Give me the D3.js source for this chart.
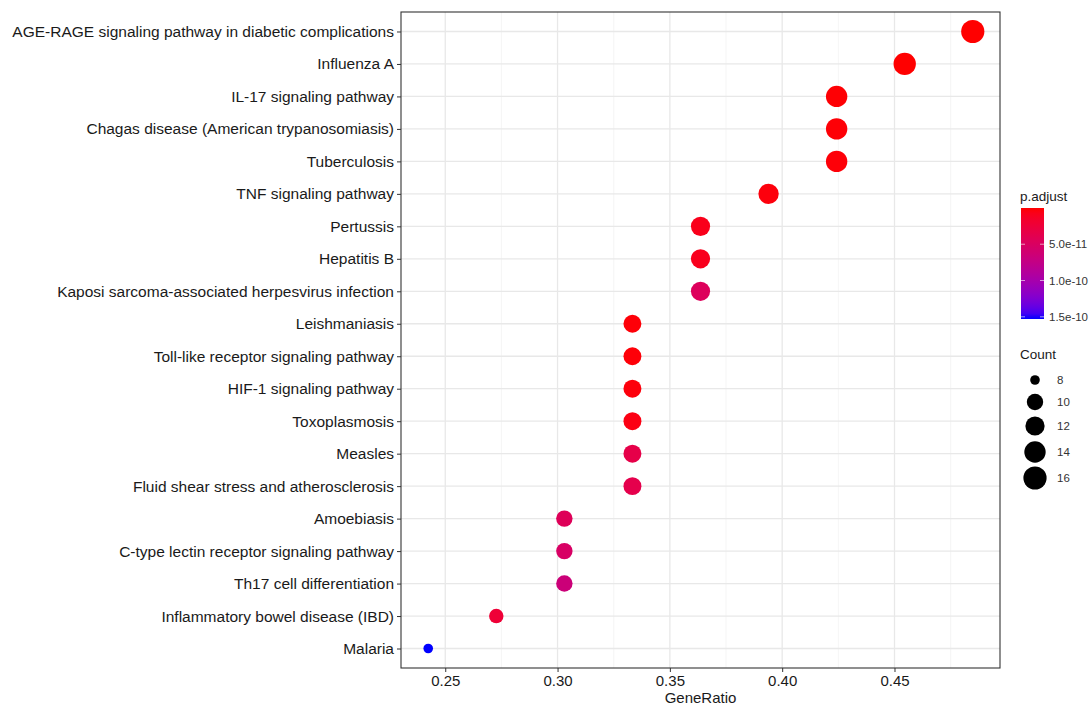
<!DOCTYPE html>
<html>
<head>
<meta charset="utf-8">
<script src="https://cdn.jsdelivr.net/npm/d3@7"></script>
<style>
  body { margin: 0; background: #fff; }
  svg { display: block; font-family: "Liberation Sans", Arial, sans-serif; }
</style>
</head>
<body>
<svg id="chart" width="1091" height="707"></svg>
<script>
// KEGG enrichment terms, top to bottom
const pathways = [
  "AGE-RAGE signaling pathway in diabetic complications",
  "Influenza A",
  "IL-17 signaling pathway",
  "Chagas disease (American trypanosomiasis)",
  "Tuberculosis",
  "TNF signaling pathway",
  "Pertussis",
  "Hepatitis B",
  "Kaposi sarcoma-associated herpesvirus infection",
  "Leishmaniasis",
  "Toll-like receptor signaling pathway",
  "HIF-1 signaling pathway",
  "Toxoplasmosis",
  "Measles",
  "Fluid shear stress and atherosclerosis",
  "Amoebiasis",
  "C-type lectin receptor signaling pathway",
  "Th17 cell differentiation",
  "Inflammatory bowel disease (IBD)",
  "Malaria"
];
const geneCounts = [16, 15, 14, 14, 14, 13, 12, 12, 12, 11, 11, 11, 11, 11, 11, 10, 10, 10, 9, 8];
const setSize = 33;
const geneRatios = geneCounts.map(c => c / setSize);
const pAdjust = [
  1e-13, 2e-13, 1e-12, 1.5e-12, 2e-12, 3e-12, 8e-12, 9e-12, 4.6e-11, 2e-12,
  2e-12, 3e-12, 5e-12, 3.4e-11, 3.6e-11, 4.4e-11, 5.2e-11, 6.6e-11, 2.3e-11, 1.53e-10
];
const xTicks = [0.25, 0.30, 0.35, 0.40, 0.45];
const xMinorTicks = [0.275, 0.325, 0.375, 0.425, 0.475];
const colorTicks = [5e-11, 1e-10, 1.5e-10];
const colorTickLabels = ["5.0e-11", "1.0e-10", "1.5e-10"];
const sizeBreaks = [8, 10, 12, 14, 16];

const svg = d3.select("#chart");
const panel = { left: 401, right: 1000, top: 12, bottom: 668 };

// continuous x with 5% expansion
const xr = d3.extent(geneRatios);
const xpad = (xr[1] - xr[0]) * 0.05;
const x = d3.scaleLinear().domain([xr[0] - xpad, xr[1] + xpad]).range([panel.left, panel.right]);

// discrete y with 0.6 padding on each end
const y = d3.scalePoint().domain(pathways).range([panel.top, panel.bottom]).padding(0.6);

// colour: low p red, high p blue, interpolated in Lab
const pExt = d3.extent(pAdjust);
const color = d3.scaleLinear().domain(pExt).range(["red", "blue"]).interpolate(d3.interpolateLab);

// radius: area-style mapping of count
const sizeNorm = d3.scaleLinear().domain(d3.extent(geneCounts)).range([0, 1]);
const rMin = 4.8, rMax = 11.6;
const radius = c => rMin + (rMax - rMin) * Math.sqrt(sizeNorm(c));

// grid
const grid = svg.append("g");
grid.selectAll(".minor").data(xMinorTicks).join("line")
  .attr("x1", d => x(d)).attr("x2", d => x(d))
  .attr("y1", panel.top).attr("y2", panel.bottom)
  .attr("stroke", "#f2f2f2").attr("stroke-width", 0.8);
grid.selectAll(".majx").data(xTicks).join("line")
  .attr("x1", d => x(d)).attr("x2", d => x(d))
  .attr("y1", panel.top).attr("y2", panel.bottom)
  .attr("stroke", "#e8e8e8").attr("stroke-width", 1.3);
grid.selectAll(".majy").data(pathways).join("line")
  .attr("x1", panel.left).attr("x2", panel.right)
  .attr("y1", d => y(d)).attr("y2", d => y(d))
  .attr("stroke", "#e8e8e8").attr("stroke-width", 1.3);

// points
svg.append("g").selectAll("circle").data(pathways).join("circle")
  .attr("cx", (d, i) => x(geneRatios[i]))
  .attr("cy", d => y(d))
  .attr("r", (d, i) => radius(geneCounts[i]))
  .attr("fill", (d, i) => color(pAdjust[i]));

// panel border
svg.append("rect")
  .attr("x", panel.left).attr("y", panel.top)
  .attr("width", panel.right - panel.left).attr("height", panel.bottom - panel.top)
  .attr("fill", "none").attr("stroke", "#333").attr("stroke-width", 1.1);

// axes
const xAxis = svg.append("g").attr("transform", `translate(0,${panel.bottom})`)
  .call(d3.axisBottom(x).tickValues(xTicks).tickFormat(d3.format(".2f")).tickSize(4).tickPadding(3));
const yAxis = svg.append("g").attr("transform", `translate(${panel.left},0)`)
  .call(d3.axisLeft(y).tickSize(4).tickPadding(3));
[xAxis, yAxis].forEach(a => {
  a.select(".domain").remove();
  a.selectAll(".tick line").attr("stroke", "#333");
  a.selectAll(".tick text").attr("fill", "#1a1a1a")
    .style("font-family", "'Liberation Sans', Arial, sans-serif");
});
yAxis.selectAll(".tick text").style("font-size", "15.5px");
xAxis.selectAll(".tick text").style("font-size", "15px");

svg.append("text")
  .attr("x", (panel.left + panel.right) / 2).attr("y", 703)
  .attr("text-anchor", "middle").attr("fill", "#1a1a1a").style("font-size", "15px")
  .text("GeneRatio");

// colour legend
const cb = { x: 1021, y: 208, w: 23, h: 111 };
svg.append("text").attr("x", 1020).attr("y", 201).attr("fill", "#1a1a1a")
  .style("font-size", "13.5px").text("p.adjust");
const grad = svg.append("defs").append("linearGradient").attr("id", "pgrad")
  .attr("x1", 0).attr("y1", 0).attr("x2", 0).attr("y2", 1);
d3.range(0, 1.0001, 0.05).forEach(t => {
  grad.append("stop").attr("offset", t).attr("stop-color", color(pExt[0] + t * (pExt[1] - pExt[0])));
});
svg.append("rect").attr("x", cb.x).attr("y", cb.y).attr("width", cb.w).attr("height", cb.h)
  .attr("fill", "url(#pgrad)");
const cy = d3.scaleLinear().domain(pExt).range([cb.y, cb.y + cb.h]);
const cTick = svg.append("g").selectAll("g").data(colorTicks).join("g");
cTick.append("line").attr("x1", cb.x).attr("x2", cb.x + 4)
  .attr("y1", d => cy(d)).attr("y2", d => cy(d)).attr("stroke", "#fff").attr("stroke-opacity", 0.6);
cTick.append("line").attr("x1", cb.x + cb.w - 4).attr("x2", cb.x + cb.w)
  .attr("y1", d => cy(d)).attr("y2", d => cy(d)).attr("stroke", "#fff").attr("stroke-opacity", 0.6);
cTick.append("text").attr("x", cb.x + cb.w + 5).attr("y", d => cy(d)).attr("dy", "0.35em")
  .attr("fill", "#333").style("font-size", "11.5px").text((d, i) => colorTickLabels[i]);

// size legend
svg.append("text").attr("x", 1020).attr("y", 359).attr("fill", "#1a1a1a")
  .style("font-size", "13.5px").text("Count");
const keyY = [380, 402, 426, 452, 478];
const sk = svg.append("g").selectAll("g").data(sizeBreaks).join("g")
  .attr("transform", (d, i) => `translate(1035,${keyY[i]})`);
sk.append("circle").attr("r", d => radius(d)).attr("fill", "#000");
sk.append("text").attr("x", 22).attr("dy", "0.35em").attr("fill", "#333")
  .style("font-size", "11.5px").text(d => d);
</script>
</body>
</html>
